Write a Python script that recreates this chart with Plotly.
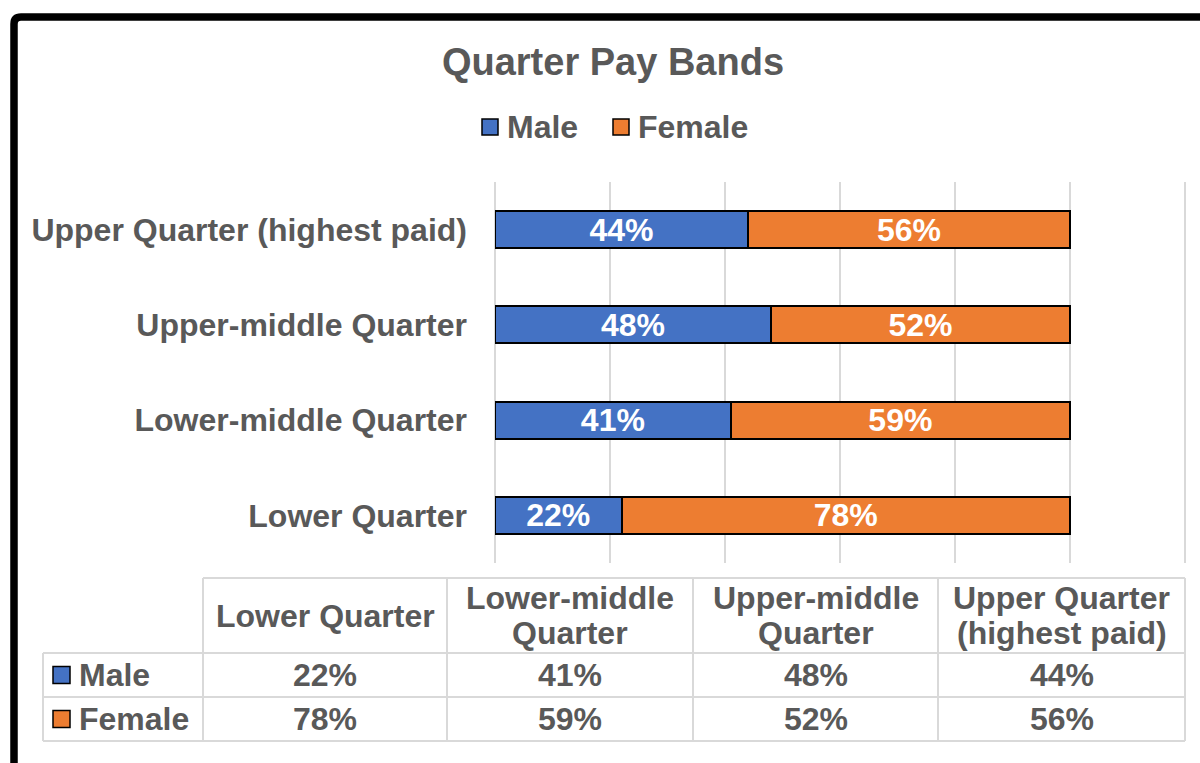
import plotly.graph_objects as go

# ---------------- data ----------------
categories = ["Lower Quarter", "Lower-middle Quarter", "Upper-middle Quarter", "Upper Quarter (highest paid)"]
male = [0.22, 0.41, 0.48, 0.44]
female = [0.78, 0.59, 0.52, 0.56]
series_names = ["Male", "Female"]
table_header_lines = [["Lower Quarter"], ["Lower-middle", "Quarter"], ["Upper-middle", "Quarter"], ["Upper Quarter", "(highest paid)"]]
grid_ticks = [0, 0.2, 0.4, 0.6, 0.8, 1.0, 1.2]

# ---------------- style ----------------
W, H = 1200, 763
BLUE = "#4472C4"
ORANGE = "#ED7D31"
GRAY = "#595959"
GRID = "#D9D9D9"
FONT = "Liberation Sans, Arial, sans-serif"
X0_PX, UNIT_PX = 495, 575          # x=0 at 495px, x=1.0 at 1070px
PLOT_TOP, PLOT_BOTTOM = 182, 563


def px(x):
    return x / W


def py(y):
    return 1 - y / H


fig = go.Figure()
for vals, name, color in zip([male, female], series_names, [BLUE, ORANGE]):
    fig.add_trace(go.Bar(
        y=categories, x=vals, name=name, orientation="h",
        marker=dict(color=color, line=dict(color="black", width=2)),
        texttemplate="%{x:.0%}", textposition="inside", insidetextanchor="middle",
        constraintext="none",
        textfont=dict(family=FONT, size=32, color="white", weight="bold"),
        showlegend=False,
    ))

shapes = []
annotations = []

# outermost gridline (120%) drawn explicitly so it is not dropped at the plot edge
x_last = X0_PX + UNIT_PX * grid_ticks[-1]
shapes.append(dict(type="line", xref="paper", yref="paper", x0=px(x_last), x1=px(x_last),
                   y0=py(PLOT_BOTTOM), y1=py(PLOT_TOP), line=dict(color=GRID, width=2)))

# black frame (top + left, rounded corner)
shapes.append(dict(
    type="path", xref="paper", yref="paper",
    path=f"M {px(14)},{py(775)} L {px(14)},{py(24)} Q {px(14)},{py(17)} {px(21)},{py(17)} L {px(1215)},{py(17)}",
    line=dict(color="black", width=7.5),
))

# ---------------- legend (manual) ----------------
lfont = dict(family=FONT, size=32, color=GRAY, weight="bold")
legend_x = [482, 613]
for name, color, lx in zip(series_names, [BLUE, ORANGE], legend_x):
    shapes.append(dict(type="rect", xref="paper", yref="paper",
                       x0=px(lx), x1=px(lx + 16), y0=py(119), y1=py(135),
                       fillcolor=color, line=dict(color="black", width=1.5)))
    annotations.append(dict(text=name, x=px(lx + 23), y=py(127), xref="paper", yref="paper",
                            xanchor="left", yanchor="middle", showarrow=False, font=lfont))

# ---------------- data table ----------------
col_x = [43, 203, 447, 693, 938, 1185]
row_y = [578, 653, 697, 741]
lw = 2
shapes.append(dict(type="line", xref="paper", yref="paper", x0=px(col_x[1]), x1=px(col_x[-1]),
                   y0=py(row_y[0]), y1=py(row_y[0]), line=dict(color=GRID, width=lw)))
for yy in row_y[1:]:
    shapes.append(dict(type="line", xref="paper", yref="paper", x0=px(col_x[0]), x1=px(col_x[-1]),
                       y0=py(yy), y1=py(yy), line=dict(color=GRID, width=lw)))
shapes.append(dict(type="line", xref="paper", yref="paper", x0=px(col_x[0]), x1=px(col_x[0]),
                   y0=py(row_y[1]), y1=py(row_y[-1]), line=dict(color=GRID, width=lw)))
for xx in col_x[1:]:
    shapes.append(dict(type="line", xref="paper", yref="paper", x0=px(xx), x1=px(xx),
                       y0=py(row_y[0]), y1=py(row_y[-1]), line=dict(color=GRID, width=lw)))

tfont = dict(family=FONT, size=32, color=GRAY, weight="bold")
for i, lines in enumerate(table_header_lines):
    cx = (col_x[i + 1] + col_x[i + 2]) / 2
    ys = [616] if len(lines) == 1 else [598, 633]
    for line_text, yy in zip(lines, ys):
        annotations.append(dict(text=line_text, x=px(cx), y=py(yy), xref="paper", yref="paper",
                                xanchor="center", yanchor="middle", showarrow=False, font=tfont))

row_centers = [(row_y[1] + row_y[2]) / 2, (row_y[2] + row_y[3]) / 2]
for r, (vals, name, color) in enumerate(zip([male, female], series_names, [BLUE, ORANGE])):
    cy = row_centers[r]
    shapes.append(dict(type="rect", xref="paper", yref="paper",
                       x0=px(53), x1=px(70), y0=py(cy - 8.5), y1=py(cy + 8.5),
                       fillcolor=color, line=dict(color="black", width=1.5)))
    annotations.append(dict(text=name, x=px(77), y=py(cy), xref="paper", yref="paper",
                            xanchor="left", yanchor="middle", showarrow=False, font=tfont))
    for i, v in enumerate(vals):
        cx = (col_x[i + 1] + col_x[i + 2]) / 2
        annotations.append(dict(text=f"{round(v * 100)}%", x=px(cx), y=py(cy), xref="paper", yref="paper",
                                xanchor="center", yanchor="middle", showarrow=False, font=tfont))

X_RIGHT = 1199
X_MAX = (X_RIGHT - X0_PX) / UNIT_PX
fig.update_layout(
    width=W, height=H, autosize=False,
    margin=dict(l=0, r=0, t=0, b=0),
    paper_bgcolor="white", plot_bgcolor="white",
    barmode="stack", bargap=0.61,
    font=dict(family=FONT, color=GRAY),
    title=dict(text="Quarter Pay Bands", x=px(613), xanchor="center", y=py(62), yanchor="middle",
               yref="container", xref="container",
               font=dict(family=FONT, size=38, color=GRAY, weight="bold")),
    showlegend=False,
    xaxis=dict(domain=[px(X0_PX), px(X_RIGHT)], range=[0, X_MAX], tickmode="array", tickvals=grid_ticks,
               showticklabels=False, showgrid=True, gridcolor=GRID, gridwidth=2,
               zeroline=True, zerolinecolor=GRID, zerolinewidth=2, showline=False, fixedrange=True),
    yaxis=dict(domain=[py(PLOT_BOTTOM), py(PLOT_TOP)], categoryorder="array", categoryarray=categories,
               tickfont=dict(family=FONT, size=32, color=GRAY, weight="bold"),
               ticks="", ticklabelstandoff=27, showgrid=False, showline=False, zeroline=False,
               automargin=False, fixedrange=True),
    shapes=shapes,
    annotations=annotations,
)

fig.write_html(
    "out.html",
    config={"displayModeBar": False},
    post_script="document.body.style.margin='0';document.body.style.overflow='hidden';",
)
